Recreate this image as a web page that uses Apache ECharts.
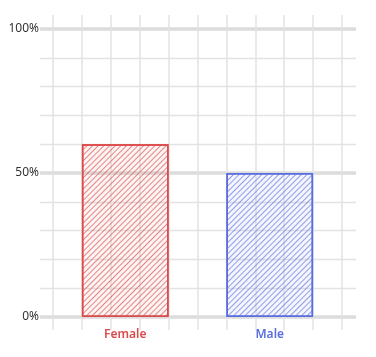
<!DOCTYPE html>
<html><head><meta charset="utf-8">
<script src="https://cdn.jsdelivr.net/npm/echarts@6/dist/echarts.min.js"></script>
<style>html,body{margin:0;padding:0;background:#fff}#c{width:376px;height:357px}</style>
</head><body><div id="c"></div>
<script>
var categories = ['Female', 'Male'];
var values = [60, 50];
var barColors = ['#dc4a4a', '#5a6ee0'];
var yTicks = [0, 50, 100];

var chart = echarts.init(document.getElementById('c'), null, {renderer: 'canvas'});
var font = '"Noto Sans", "Open Sans", sans-serif';
function hexA(h, a) {
  var r = parseInt(h.slice(1,3),16), g = parseInt(h.slice(3,5),16), b = parseInt(h.slice(5,7),16);
  return 'rgba(' + r + ',' + g + ',' + b + ',' + a + ')';
}
var option = {
  animation: false,
  grid: [
    {left: 53, right: 34, top: 29, bottom: 40},   // main
    {left: 40, right: 20, top: 29, bottom: 40},   // horizontal lines
    {left: 53, right: 34, top: 15, bottom: 27}    // vertical lines
  ],
  xAxis: [
    {gridIndex: 0, type: 'category', data: categories,
     axisLine: {show: false}, axisTick: {show: false},
     axisLabel: {margin: 12, fontFamily: font, fontSize: 12, fontWeight: 600,
       color: function (v, i) { return barColors[i]; }}},
    {gridIndex: 1, type: 'value', min: 0, max: 1, show: false},
    {gridIndex: 2, type: 'value', min: 0, max: 10, interval: 1,
     axisLine: {show: false}, axisTick: {show: false}, axisLabel: {show: false},
     splitLine: {show: true, lineStyle: {color: '#e3e3e3', width: 1.5}}}
  ],
  yAxis: [
    {gridIndex: 0, type: 'value', min: 0, max: 100, interval: 50,
     axisLine: {show: false}, axisTick: {show: false},
     axisLabel: {fontFamily: font, fontSize: 12, color: '#333', margin: 14,
       formatter: function (v) { return yTicks.indexOf(v) >= 0 ? v + '%' : ''; }},
     splitLine: {show: false}},
    {gridIndex: 1, type: 'value', min: 0, max: 100, interval: 10, show: true,
     axisLine: {show: false}, axisTick: {show: false}, axisLabel: {show: false},
     splitLine: {show: true, lineStyle: {color: '#e3e3e3', width: 1.3}}},
    {gridIndex: 1, type: 'value', min: 0, max: 100, interval: 50, show: true,
     axisLine: {show: false}, axisTick: {show: false}, axisLabel: {show: false},
     splitLine: {show: true, lineStyle: {color: '#dcdcdc', width: 3.5}}},
    {gridIndex: 2, type: 'value', min: 0, max: 1, show: false}
  ],
  series: [{
    type: 'bar', xAxisIndex: 0, yAxisIndex: 0,
    barWidth: '60%',
    z: 5,
    data: values.map(function (v, i) {
      return {value: v, itemStyle: {
        color: hexA(barColors[i], 0.06),
        borderColor: barColors[i], borderWidth: 1.5,
        decal: {symbol: 'rect', symbolSize: 1, dashArrayX: [1, 0], dashArrayY: [1, 3],
                rotation: -Math.PI / 4, color: hexA(barColors[i], 0.65)}
      }};
    })
  }]
};
chart.setOption(option);
</script></body></html>
